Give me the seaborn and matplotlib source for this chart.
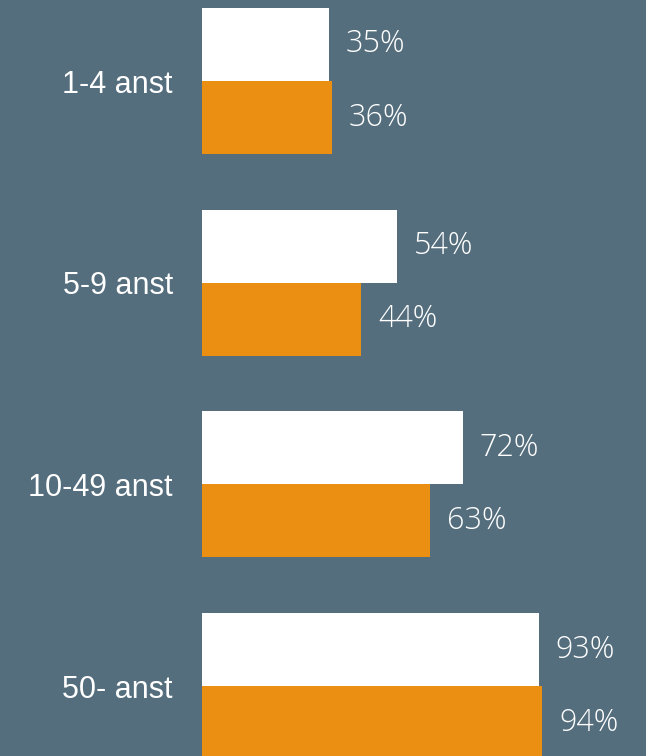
import pandas as pd
import seaborn as sns
from matplotlib import pyplot as plt

# data
categories = ["1-4 anst", "5-9 anst", "10-49 anst", "50- anst"]
series_names = ["Serie 1", "Serie 2"]
white_values = [35, 54, 72, 93]
orange_values = [36, 44, 63, 94]

bg = "#546E7D"
colors = ["#FFFFFF", "#EA8F12"]

df = pd.DataFrame({
    "group": categories * 2,
    "serie": [series_names[0]] * 4 + [series_names[1]] * 4,
    "value": white_values + orange_values,
})

fig = plt.figure(figsize=(6.46, 7.56), dpi=100)
fig.patch.set_facecolor(bg)
ax = fig.add_axes([202 / 646, 0, 444 / 646, 1])
ax.set_facecolor(bg)

sns.barplot(data=df, y="group", x="value", hue="serie", orient="h",
            palette=colors, saturation=1, width=0.724, ax=ax, legend=False,
            linewidth=0, errorbar=None)

ax.set_xlim(0, 122.65)
ax.set_ylim(3.3466, -0.4016)

for cont in ax.containers:
    ax.bar_label(cont, labels=[f"{v:.0f}%" for v in cont.datavalues],
                 padding=12, color="white", fontsize=22,
                 family=["Open Sans", "DejaVu Sans"], fontweight="light")

ax.set_xlabel("")
ax.set_ylabel("")
ax.set_xticks([])
ax.tick_params(axis="y", length=0, pad=21, labelcolor="white", labelsize=22)
for lab in ax.get_yticklabels():
    lab.set_family(["Liberation Sans", "DejaVu Sans"])
for s in ax.spines.values():
    s.set_visible(False)

fig.savefig("out.png", dpi=100, facecolor=bg)
